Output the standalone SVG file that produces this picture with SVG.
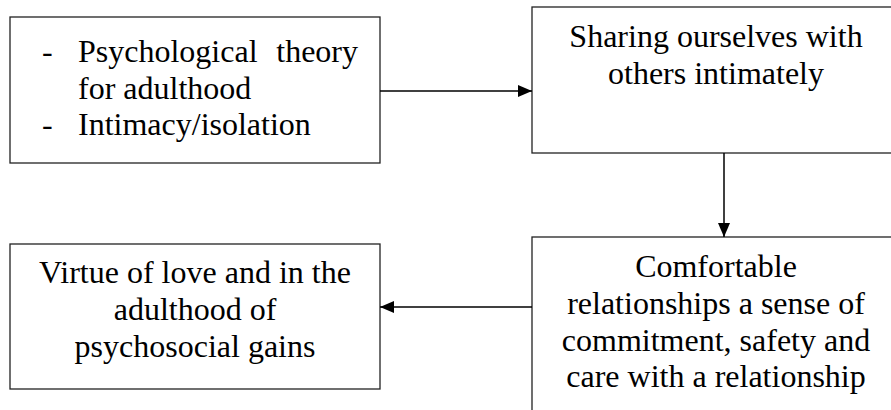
<svg xmlns="http://www.w3.org/2000/svg" width="891" height="410" viewBox="0 0 891 410">
<style>
.box{fill:#fff;stroke:#222;stroke-width:1.3}
.t{font-size:32px;fill:#000}
.c{text-anchor:middle}
.conn{stroke:#000;stroke-width:1.5;fill:none;marker-end:url(#ah)}
</style>
<defs>
<marker id="ah" viewBox="0 0 14 12" refX="14" refY="6" markerWidth="14" markerHeight="12" markerUnits="userSpaceOnUse" orient="auto">
<path d="M0,0 L14,6 L0,12 Z" fill="#000"/>
</marker>
</defs>
<rect width="891" height="410" fill="#fff"/>
<g font-family="Liberation Serif, Times New Roman, serif">
<g id="node1">
<rect class="box" x="10" y="17" width="370" height="146"/>
<text class="t" x="42" y="62">-</text>
<text class="t" x="78" y="62">Psychological</text>
<text class="t" x="358" y="62" text-anchor="end">theory</text>
<text class="t" x="78" y="98.5">for adulthood</text>
<text class="t" x="42" y="135">-</text>
<text class="t" x="78" y="135">Intimacy/isolation</text>
</g>
<g id="node2">
<rect class="box" x="532" y="7" width="370" height="146"/>
<text class="t c" x="716" y="47">Sharing ourselves with</text>
<text class="t c" x="716" y="83.5">others intimately</text>
</g>
<g id="node3">
<rect class="box" x="10" y="244" width="370" height="145"/>
<text class="t c" x="195" y="283">Virtue of love and in the</text>
<text class="t c" x="195" y="320">adulthood of</text>
<text class="t c" x="195" y="357">psychosocial gains</text>
</g>
<g id="node4">
<rect class="box" x="532" y="237" width="370" height="190"/>
<text class="t c" x="716" y="277">Comfortable</text>
<text class="t c" x="716" y="314">relationships a sense of</text>
<text class="t c" x="716" y="350.5">commitment, safety and</text>
<text class="t c" x="716" y="387">care with a relationship</text>
</g>
</g>
<g id="connectors">
<path class="conn" d="M380,91 H532"/>
<path class="conn" d="M724,153 V237"/>
<path class="conn" d="M532,307 H380"/>
</g>
</svg>
